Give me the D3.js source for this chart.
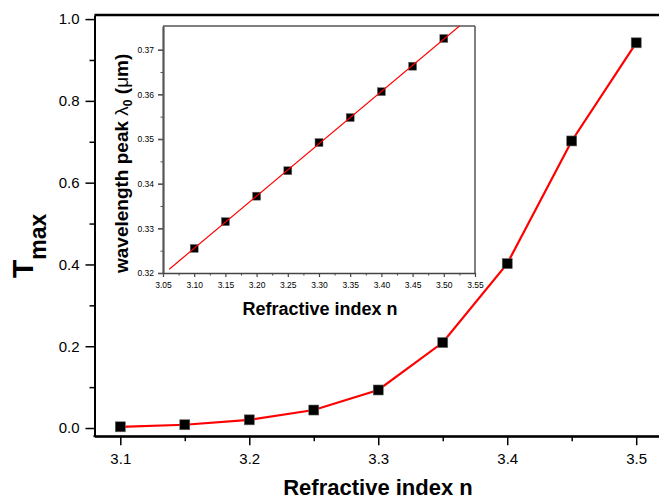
<!DOCTYPE html>
<html>
<head>
<meta charset="utf-8">
<script src="https://cdn.jsdelivr.net/npm/d3@7/dist/d3.min.js"></script>
<style>
  html, body { margin: 0; padding: 0; background: #fff; }
  svg { display: block; font-family: Arial, "Liberation Sans", sans-serif; }
</style>
</head>
<body>
<svg id="chart" width="659" height="500"></svg>
<script>
// Peak transmission vs refractive index
const refractiveIndex = [3.10, 3.15, 3.20, 3.25, 3.30, 3.35, 3.40, 3.45, 3.50];
const tMax = [0.003, 0.008, 0.020, 0.044, 0.093, 0.209, 0.402, 0.702, 0.942];

// Inset: wavelength of the peak vs refractive index
const insetIndex = [3.10, 3.15, 3.20, 3.25, 3.30, 3.35, 3.40, 3.45, 3.50];
const peakWavelength = [0.3255, 0.3315, 0.3372, 0.3429, 0.3492, 0.3548, 0.3606, 0.3663, 0.3725];
const fitRange = [3.06, 3.55];

// Tick values
const mainXTicks = [3.1, 3.2, 3.3, 3.4, 3.5];
const mainXMinor = [3.15, 3.25, 3.35, 3.45];
const mainYTicks = [0.0, 0.2, 0.4, 0.6, 0.8, 1.0];
const mainYMinor = [0.1, 0.3, 0.5, 0.7, 0.9];
const insetXTicks = [3.05, 3.10, 3.15, 3.20, 3.25, 3.30, 3.35, 3.40, 3.45, 3.50, 3.55];
const insetXMinor = [3.075, 3.125, 3.175, 3.225, 3.275, 3.325, 3.375, 3.425, 3.475, 3.525];
const insetYTicks = [0.32, 0.33, 0.34, 0.35, 0.36, 0.37];
const insetYMinor = [0.325, 0.335, 0.345, 0.355, 0.365];

const svg = d3.select("#chart");

// ---------- main plot ----------
const x = d3.scaleLinear().domain([3.08, 3.52]).range([94.5, 662]);
const y = d3.scaleLinear().domain([-0.02, 1.01]).range([436.2, 15]);

const [x0] = x.range();
const [yb, yt] = y.range();

// top frame line
svg.append("line")
  .attr("x1", x0).attr("x2", 659).attr("y1", yt).attr("y2", yt)
  .attr("stroke", "#000").attr("stroke-width", 2.5);

function styleAxis(g, color, width, fontSize) {
  g.select(".domain").attr("stroke", color).attr("stroke-width", width);
  g.selectAll(".tick line").attr("stroke", color).attr("stroke-width", width * 0.75);
  g.selectAll(".tick text").attr("fill", "#000").attr("font-size", fontSize)
    .attr("font-family", "Arial, 'Liberation Sans', sans-serif");
}

const gx = svg.append("g").attr("transform", `translate(0,${yb})`)
  .call(d3.axisBottom(x).tickValues(mainXTicks).tickFormat(d3.format(".1f"))
    .tickSizeInner(9).tickSizeOuter(0).tickPadding(8));
styleAxis(gx, "#000", 2, 15);
svg.append("g").attr("transform", `translate(0,${yb})`)
  .call(d3.axisBottom(x).tickValues(mainXMinor).tickFormat("").tickSizeInner(5).tickSizeOuter(0))
  .call(g => { g.select(".domain").remove(); g.selectAll("line").attr("stroke", "#000").attr("stroke-width", 1.5); });

const gy = svg.append("g").attr("transform", `translate(${x0},0)`)
  .call(d3.axisLeft(y).tickValues(mainYTicks).tickFormat(d3.format(".1f"))
    .tickSizeInner(9).tickSizeOuter(0).tickPadding(6));
styleAxis(gy, "#000", 2, 15);
svg.append("g").attr("transform", `translate(${x0},0)`)
  .call(d3.axisLeft(y).tickValues(mainYMinor).tickFormat("").tickSizeInner(5).tickSizeOuter(0))
  .call(g => { g.select(".domain").remove(); g.selectAll("line").attr("stroke", "#000").attr("stroke-width", 1.5); });

// extend bottom axis line to the window edge
svg.append("line")
  .attr("x1", x0 - 1).attr("x2", 659).attr("y1", yb).attr("y2", yb)
  .attr("stroke", "#000").attr("stroke-width", 2);

// data line and markers
const mainPts = refractiveIndex.map((n, i) => [n, tMax[i]]);
svg.append("path")
  .datum(mainPts)
  .attr("fill", "none").attr("stroke", "#ff0000").attr("stroke-width", 2.2)
  .attr("d", d3.line().x(d => x(d[0])).y(d => y(d[1])));

svg.append("g").selectAll("rect").data(mainPts).join("rect")
  .attr("x", d => x(d[0]) - 5).attr("y", d => y(d[1]) - 5)
  .attr("width", 10).attr("height", 10)
  .attr("fill", "#000").attr("stroke", "#666").attr("stroke-width", 0.6);

// axis titles
svg.append("text")
  .attr("x", 378).attr("y", 495)
  .attr("text-anchor", "middle").attr("font-weight", "bold").attr("font-size", 22)
  .text("Refractive index n");

const yTitle = svg.append("text")
  .attr("transform", "translate(33,278) rotate(-90)")
  .attr("text-anchor", "start").attr("font-weight", "bold");
yTitle.append("tspan").attr("font-size", 30).text("T");
yTitle.append("tspan").attr("font-size", 23).attr("dy", 13).text("max");

// ---------- inset ----------
const ix = d3.scaleLinear().domain([3.05, 3.55]).range([163, 475]);
const iy = d3.scaleLinear().domain([0.32, 0.3753]).range([273, 26]);
const [ix0, ix1] = ix.range();
const [iyb, iyt] = iy.range();

svg.append("rect")
  .attr("x", ix0).attr("y", iyt).attr("width", ix1 - ix0).attr("height", iyb - iyt)
  .attr("fill", "#fff");

// frame: thin black top, gray right side
svg.append("line").attr("x1", ix0).attr("x2", ix1).attr("y1", iyt).attr("y2", iyt)
  .attr("stroke", "#000").attr("stroke-width", 1.2);
svg.append("line").attr("x1", ix1).attr("x2", ix1).attr("y1", iyt).attr("y2", iyb)
  .attr("stroke", "#555").attr("stroke-width", 1.5);

const igx = svg.append("g").attr("transform", `translate(0,${iyb})`)
  .call(d3.axisBottom(ix).tickValues(insetXTicks).tickFormat(d3.format(".2f"))
    .tickSizeInner(4).tickSizeOuter(0).tickPadding(5));
styleAxis(igx, "#444", 1.6, 8.5);
svg.append("g").attr("transform", `translate(0,${iyb})`)
  .call(d3.axisBottom(ix).tickValues(insetXMinor).tickFormat("").tickSizeInner(2.5).tickSizeOuter(0))
  .call(g => { g.select(".domain").remove(); g.selectAll("line").attr("stroke", "#444").attr("stroke-width", 1); });

const igy = svg.append("g").attr("transform", `translate(${ix0},0)`)
  .call(d3.axisLeft(iy).tickValues(insetYTicks).tickFormat(d3.format(".2f"))
    .tickSizeInner(5).tickSizeOuter(0).tickPadding(4));
styleAxis(igy, "#555", 2.2, 8.5);
svg.append("g").attr("transform", `translate(${ix0},0)`)
  .call(d3.axisLeft(iy).tickValues(insetYMinor).tickFormat("").tickSizeInner(2.5).tickSizeOuter(0))
  .call(g => { g.select(".domain").remove(); g.selectAll("line").attr("stroke", "#555").attr("stroke-width", 1); });

// markers, then the least-squares fit drawn over them
const insetPts = insetIndex.map((n, i) => [n, peakWavelength[i]]);
svg.append("g").selectAll("rect").data(insetPts).join("rect")
  .attr("x", d => ix(d[0]) - 4).attr("y", d => iy(d[1]) - 4)
  .attr("width", 8).attr("height", 8)
  .attr("fill", "#000").attr("stroke", "#777").attr("stroke-width", 0.5);

const mx = d3.mean(insetPts, d => d[0]);
const my = d3.mean(insetPts, d => d[1]);
const slope = d3.sum(insetPts, d => (d[0] - mx) * (d[1] - my)) / d3.sum(insetPts, d => (d[0] - mx) ** 2);
const intercept = my - slope * mx;
const fitPts = fitRange.map(n => [n, intercept + slope * n]);

svg.append("clipPath").attr("id", "insetClip")
  .append("rect").attr("x", ix0).attr("y", iyt).attr("width", ix1 - ix0).attr("height", iyb - iyt);
svg.append("path")
  .datum(fitPts)
  .attr("clip-path", "url(#insetClip)")
  .attr("fill", "none").attr("stroke", "#ff0000").attr("stroke-width", 1.2)
  .attr("d", d3.line().x(d => ix(d[0])).y(d => iy(d[1])));

// inset titles
svg.append("text")
  .attr("x", (ix0 + ix1) / 2 + 1).attr("y", 315)
  .attr("text-anchor", "middle").attr("font-weight", "bold").attr("font-size", 18)
  .text("Refractive index n");

const iyTitle = svg.append("text")
  .attr("transform", "translate(128,273) rotate(-90)")
  .attr("text-anchor", "start").attr("font-weight", "bold").attr("font-size", 19);
iyTitle.append("tspan").text("wavelength peak ");
iyTitle.append("tspan").attr("font-weight", "normal").text("λ");
iyTitle.append("tspan").attr("font-size", 12).attr("dy", 4).text("0");
iyTitle.append("tspan").attr("dy", -4).text(" (");
iyTitle.append("tspan").attr("font-weight", "normal").text("μ");
iyTitle.append("tspan").text("m)");
</script>
</body>
</html>
